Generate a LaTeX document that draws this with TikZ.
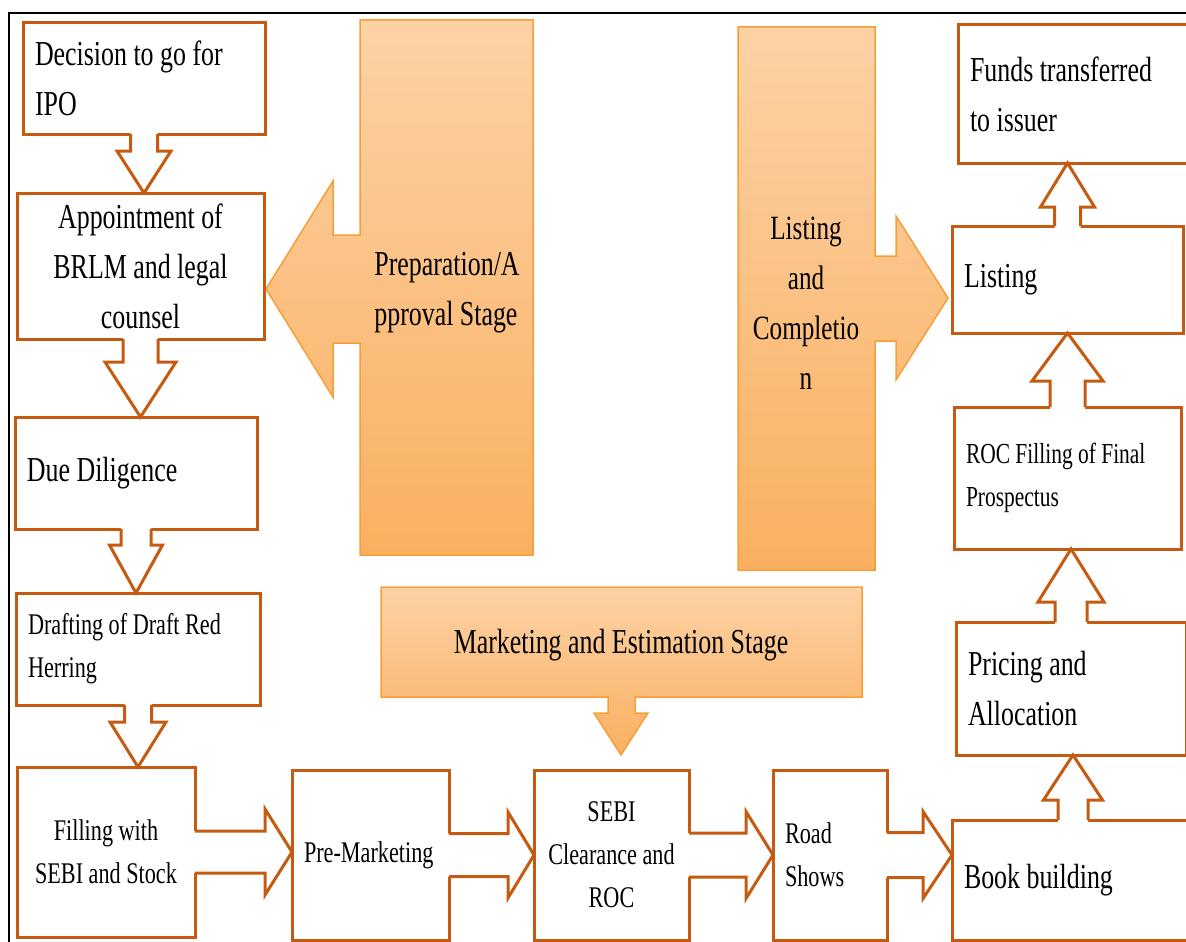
\documentclass[tikz,border=0pt]{standalone}
\usepackage{fontspec}
\setmainfont{Liberation Serif}[FakeStretch=0.74]
\usetikzlibrary{calc}

\definecolor{boxline}{RGB}{197,90,17}
\definecolor{calltop}{RGB}{252,210,166}
\definecolor{callbot}{RGB}{250,176,96}
\definecolor{callline}{RGB}{247,158,56}

\tikzset{
  box/.style={draw=boxline, line width=3pt, fill=white, outer sep=0pt,
    inner ysep=0pt, inner xsep=12pt, anchor=center, text=black},
  lbox/.style={box, align=flush left},
  cbox/.style={box, align=center},
  big/.style={font=\fontsize{35}{50}\selectfont},
  mid/.style={font=\fontsize{30}{43}\selectfont},
  small/.style={font=\fontsize{29}{43}\selectfont},
  callout/.style={draw=callline, line width=1.5pt, line join=miter,
    top color=calltop, bottom color=callbot},
  arrowline/.style={draw=boxline, line width=3pt, line join=miter},
}

% block arrows: source node, target node, half shaft, half head, head length
\newcommand\flowdown[5]{%
  \coordinate (fs) at (#1.south);
  \coordinate (ft) at (#1.south |- #2.north);
  \fill[white] ($(fs)+(-#3,-4)$) -- ($(ft)+(-#3,-#5)$) -- ($(ft)+(-#4,-#5)$) -- (ft)
    -- ($(ft)+(#4,-#5)$) -- ($(ft)+(#3,-#5)$) -- ($(fs)+(#3,-4)$) -- cycle;
  \draw[arrowline] ($(fs)+(-#3,0)$) -- ($(ft)+(-#3,-#5)$) -- ($(ft)+(-#4,-#5)$) -- (ft)
    -- ($(ft)+(#4,-#5)$) -- ($(ft)+(#3,-#5)$) -- ($(fs)+(#3,0)$);
}
\newcommand\flowup[5]{%
  \coordinate (fs) at (#1.north);
  \coordinate (ft) at (#1.north |- #2.south);
  \fill[white] ($(fs)+(-#3,4)$) -- ($(ft)+(-#3,#5)$) -- ($(ft)+(-#4,#5)$) -- (ft)
    -- ($(ft)+(#4,#5)$) -- ($(ft)+(#3,#5)$) -- ($(fs)+(#3,4)$) -- cycle;
  \draw[arrowline] ($(fs)+(-#3,0)$) -- ($(ft)+(-#3,#5)$) -- ($(ft)+(-#4,#5)$) -- (ft)
    -- ($(ft)+(#4,#5)$) -- ($(ft)+(#3,#5)$) -- ($(fs)+(#3,0)$);
}
\newcommand\flowright[5]{%
  \coordinate (fs) at (#1.east);
  \coordinate (ft) at (#1.east -| #2.west);
  \fill[white] ($(fs)+(-4,-#3)$) -- ($(ft)+(-#5,-#3)$) -- ($(ft)+(-#5,-#4)$) -- (ft)
    -- ($(ft)+(-#5,#4)$) -- ($(ft)+(-#5,#3)$) -- ($(fs)+(-4,#3)$) -- cycle;
  \draw[arrowline] ($(fs)+(0,-#3)$) -- ($(ft)+(-#5,-#3)$) -- ($(ft)+(-#5,-#4)$) -- (ft)
    -- ($(ft)+(-#5,#4)$) -- ($(ft)+(-#5,#3)$) -- ($(fs)+(0,#3)$);
}

\begin{document}
\begin{tikzpicture}[x=1pt, y=-1pt]
\useasboundingbox (0,0) rectangle (1186,942);
\clip (0,0) rectangle (1186,942);

% frame
\draw[line width=2pt] (9,942) -- (9,13) -- (1186,13);

% stage callouts
\path[callout] (360,20) -- (533,20) -- (533,555) -- (360,555) -- (360,343) -- (333,343)
  -- (333,397) -- (266,289) -- (333,181) -- (333,235) -- (360,235) -- cycle;
\path[callout] (738,27) -- (875,27) -- (875,256) -- (896,256) -- (896,216) -- (948,298)
  -- (896,380) -- (896,341) -- (875,341) -- (875,570) -- (738,570) -- cycle;
\path[callout] (381,587) -- (862,587) -- (862,697) -- (635,697) -- (635,713) -- (648,713)
  -- (621,755) -- (594,713) -- (608,713) -- (608,697) -- (381,697) -- cycle;

\node[big, align=left] (prep) at (447,293) {Preparation/A\\pproval Stage};
\node[font=\fontsize{34}{50}\selectfont, align=center] (lc) at (806,303) {Listing\\and\\Completio\\n};
\node[big] (mkt) at (621,645) {Marketing and Estimation Stage};

% process steps
\node[lbox, big, text width=218pt, minimum height=111pt] (dec) at (144,78.5) {Decision to go for\\IPO};
\node[cbox, big, minimum width=247pt, minimum height=146pt] (app) at (140.5,266) {Appointment of\\BRLM and legal\\counsel};
\node[lbox, big, text width=218pt, minimum height=112pt] (due) at (136,473) {Due Diligence};
\node[lbox, mid, text width=220pt, minimum height=112pt] (draft) at (138,649) {Drafting of Draft Red\\Herring};
\node[cbox, mid, minimum width=178pt, minimum height=170pt] (fill) at (106,852) {Filling with\\SEBI and Stock};
\node[lbox, mid, text width=133pt, minimum height=170pt] (pre) at (370.5,855) {Pre-Marketing};
\node[cbox, mid, minimum width=155pt, minimum height=170pt] (sebi) at (611.5,855) {SEBI\\Clearance and\\ROC};
\node[lbox, mid, text width=90pt, minimum height=170pt] (road) at (830,855) {Road\\Shows};
\node[lbox, big, text width=218pt, minimum height=120pt] (book) at (1073,880) {Book building};
\node[lbox, big, text width=206pt, minimum height=133pt] (price) at (1071,688.5) {Pricing and\\Allocation};
\node[lbox, small, text width=203pt, minimum height=142pt] (roc) at (1067.5,478) {ROC Filling of Final\\Prospectus};
\node[lbox, big, text width=207pt, minimum height=107pt] (list) at (1067.5,279.5) {Listing};
\node[lbox, big, text width=208pt, minimum height=138pt] (funds) at (1074,94) {Funds transferred\\to issuer};

% connectors
\flowdown{dec}{app}{13.5}{27}{42}
\flowdown{app}{due}{17.5}{35.5}{55}
\flowdown{due}{draft}{15}{26.5}{48}
\flowdown{draft}{fill}{13.5}{28}{45}
\flowright{fill}{pre}{21}{43}{27}
\flowright{pre}{sebi}{21.5}{43}{26}
\flowright{sebi}{road}{22}{43.5}{27}
\flowright{road}{book}{22.5}{43.5}{29}
\flowup{book}{price}{15}{29.5}{45}
\flowup{price}{roc}{16}{33}{53}
\flowup{roc}{list}{17.5}{35.5}{48}
\flowup{list}{funds}{13}{27}{44}
\end{tikzpicture}
\end{document}
